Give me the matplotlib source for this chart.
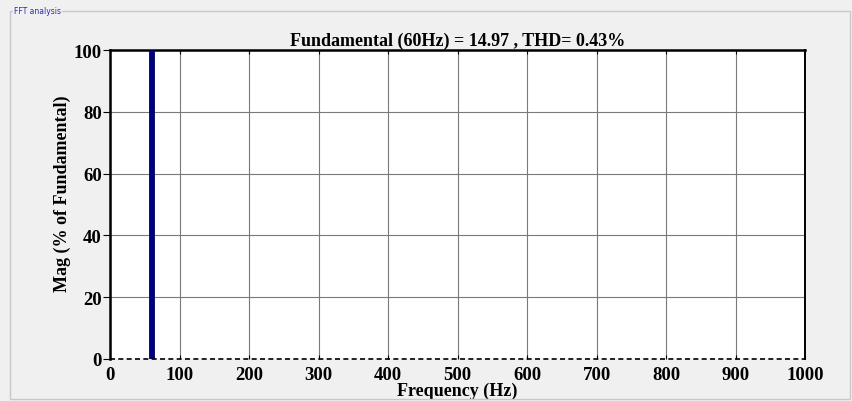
import matplotlib
matplotlib.use("Agg")
import matplotlib.pyplot as plt
from matplotlib.patches import Rectangle

# Spectrum data
freqs = [60]
mags = [100.0]
fundamental_hz = 60
fundamental_mag = 14.97
thd_pct = 0.43
xticks = [0, 100, 200, 300, 400, 500, 600, 700, 800, 900, 1000]
yticks = [0, 20, 40, 60, 80, 100]

bg = "#f0f0f0"
fig = plt.figure(figsize=(8.52, 4.02), dpi=100, facecolor=bg)

# Panel frame with caption
frame = Rectangle((10 / 852, 2 / 402), 840 / 852, 388 / 402, transform=fig.transFigure,
                  fill=False, edgecolor="#c8c8c8", linewidth=1.0)
fig.patches.append(frame)
fig.text(14 / 852, 1 - 12 / 402, "FFT analysis", fontsize=5.5, color="#2a2ab0",
         family="DejaVu Sans", va="center", ha="left",
         bbox=dict(facecolor=bg, edgecolor="none", pad=0.5))

ax = fig.add_axes([110 / 852, 1 - 360 / 402, 695 / 852, 309 / 402])
ax.set_facecolor("white")

ax.bar(freqs, mags, width=7, color="#000080", edgecolor="#00005a", linewidth=0.6, zorder=3)
ax.axhline(0, color="black", linestyle=(0, (3, 2)), linewidth=1.2, zorder=4, clip_on=False)

ax.set_xlim(0, 1000)
ax.set_ylim(0, 100)
ax.set_xticks(xticks)
ax.set_yticks(yticks)
ax.grid(True, color="#7a7a7a", linewidth=0.8, linestyle="-", zorder=0)
ax.set_axisbelow(True)

font = dict(family="Liberation Serif", weight="bold")
ax.set_xticklabels([str(t) for t in xticks], fontsize=13.5, **font)
ax.set_yticklabels([str(t) for t in yticks], fontsize=13.5, **font)
ax.tick_params(axis="x", direction="in", length=3, width=0.8, pad=5,
               top=True, colors="black")
ax.tick_params(axis="y", direction="out", length=5, width=0.8, pad=1,
               right=False, colors="black")

ax.set_title(f"Fundamental ({fundamental_hz}Hz) = {fundamental_mag} , THD= {thd_pct}%",
             fontsize=13, pad=4, **font)
ax.set_xlabel("Frequency (Hz)", fontsize=13, va="center", **font)
ax.xaxis.set_label_coords(0.5, -0.102)
ax.set_ylabel("Mag (% of Fundamental)", fontsize=13, va="center", **font)
ax.yaxis.set_label_coords(-0.068, 0.537)

for side in ("top", "left"):
    ax.spines[side].set_linewidth(1.8)
ax.spines["right"].set_linewidth(1.4)
ax.spines["bottom"].set_visible(False)

fig.savefig("out.png", dpi=100, facecolor=bg)
